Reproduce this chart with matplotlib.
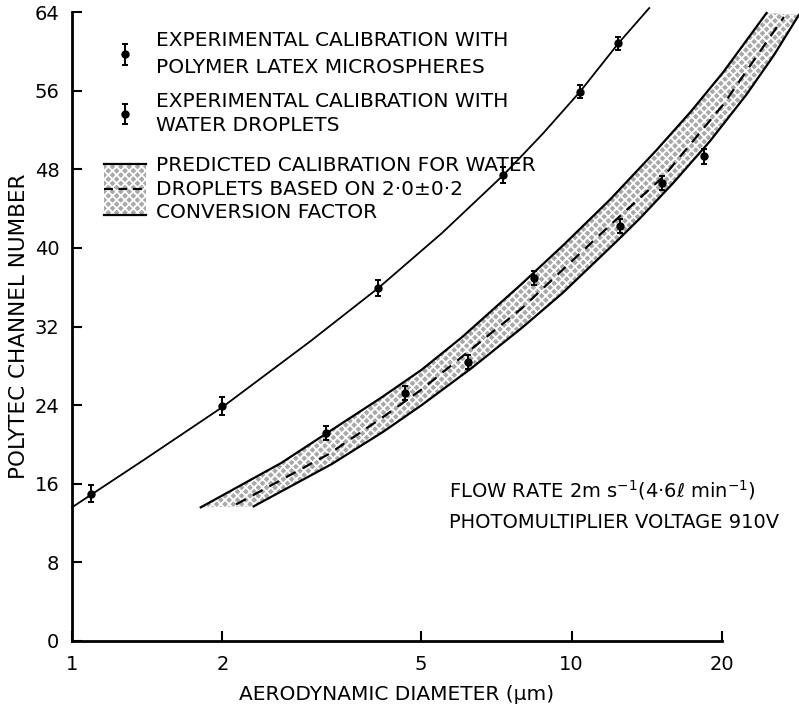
import matplotlib
matplotlib.use('Agg')
import matplotlib.pyplot as plt
import matplotlib.patches as mpatches
from matplotlib.lines import Line2D
from matplotlib.ticker import NullLocator

# experimental calibration, polymer latex microspheres
latex_d = [1.09, 2.0, 4.1, 7.3, 10.4, 12.4]
latex_n = [15.0, 23.9, 35.9, 47.4, 55.9, 60.8]
latex_err = [0.9, 0.9, 0.8, 0.8, 0.7, 0.7]

# experimental calibration, water droplets
water_d = [3.23, 4.63, 6.2, 8.4, 12.5, 15.2, 18.4]
water_n = [21.2, 25.2, 28.4, 36.9, 42.2, 46.6, 49.3]
water_err = [0.7, 0.7, 0.7, 0.7, 0.7, 0.7, 0.8]

# curve through latex points
fit_d = [1.0, 1.39, 2.0, 3.0, 4.1, 5.5, 7.3, 8.75, 10.4, 12.4, 14.3]
fit_n = [13.6, 18.4, 23.8, 30.5, 35.9, 41.5, 47.4, 51.6, 55.9, 60.8, 64.4]

# predicted band for water droplets (upper edge, lower edge, centre)
up_d = [1.81, 2.62, 4.17, 5.01, 6.03, 7.97, 9.59, 11.93, 14.76, 17.28, 20.13, 24.56]
up_n = [13.6, 18.1, 24.8, 27.6, 30.9, 36.4, 40.2, 44.9, 49.9, 53.8, 57.9, 63.9]
lo_d = [2.31, 3.31, 4.2, 5.01, 6.32, 7.97, 9.59, 12.27, 13.7, 15.97, 18.95, 22.39, 25.4, 28.5]
lo_n = [13.7, 18.0, 21.3, 24.0, 27.8, 31.9, 35.4, 40.6, 43.0, 46.6, 50.9, 55.6, 59.6, 63.7]
mid_d = [2.13, 3.26, 4.17, 5.01, 7.97, 11.93, 15.3, 20.13, 26.6]
mid_n = [13.9, 19.0, 22.7, 25.6, 33.9, 42.3, 47.3, 54.6, 63.5]

x_ticks = [1, 2, 5, 10, 20]
y_ticks = [0, 8, 16, 24, 32, 40, 48, 56, 64]

BAND_FACE = '#a9a9a9'
plt.rcParams['hatch.linewidth'] = 1.3


class BandHandler:
    def legend_artist(self, legend, orig_handle, fontsize, handlebox):
        x0 = -handlebox.xdescent
        w = handlebox.width
        yc = -handlebox.ydescent + handlebox.height / 2
        half = 1.25 * fontsize
        rect = mpatches.Rectangle((x0, yc - half), w, 2 * half,
                                  facecolor=BAND_FACE, edgecolor='white',
                                  hatch='xxxx', lw=0)
        handlebox.add_artist(rect)
        for yy, ls in [(yc + half, '-'), (yc, (0, (4, 2.5))), (yc - half, '-')]:
            handlebox.add_artist(Line2D([x0, x0 + w], [yy, yy], color='k',
                                        lw=1.6, ls=ls))
        return rect


def main():
    fig = plt.figure(figsize=(7.99, 7.11), dpi=100)
    ax = fig.add_axes([72 / 799, 70 / 711, 650 / 799, 629 / 711])

    ax.fill(up_d + lo_d[::-1], up_n + lo_n[::-1], facecolor=BAND_FACE,
            edgecolor='white', hatch='xxxx', linewidth=0, clip_on=False)
    ax.plot(up_d, up_n, color='k', lw=1.6, clip_on=False)
    ax.plot(lo_d, lo_n, color='k', lw=1.6, clip_on=False)
    ax.plot(mid_d, mid_n, color='k', lw=1.6, dashes=(5, 3.5), clip_on=False)
    ax.plot(fit_d, fit_n, color='k', lw=1.3, clip_on=False)

    eb1 = ax.errorbar(latex_d, latex_n, yerr=latex_err, fmt='o', color='k',
                      ms=5, capsize=2.5, elinewidth=1.4, capthick=1.4)
    eb2 = ax.errorbar(water_d, water_n, yerr=water_err, fmt='o', color='k',
                      ms=5, capsize=2.5, elinewidth=1.4, capthick=1.4)
    band = mpatches.Patch()

    leg_kw = dict(loc='upper left', frameon=False, fontsize=14.5, borderpad=0,
                  borderaxespad=0, handlelength=2.1, handletextpad=0.5)
    leg1 = ax.legend([eb1, eb2],
                     ['EXPERIMENTAL CALIBRATION WITH\nPOLYMER LATEX MICROSPHERES',
                      'EXPERIMENTAL CALIBRATION WITH\nWATER DROPLETS'],
                     bbox_to_anchor=(0.049, 0.97), labelspacing=0.75, **leg_kw)
    for t, sp in zip(leg1.get_texts(), [1.55, 1.35]):
        t.set_linespacing(sp)
    ax.add_artist(leg1)
    leg2 = ax.legend([band],
                     ['PREDICTED CALIBRATION FOR WATER\nDROPLETS BASED ON 2·0±0·2\nCONVERSION FACTOR'],
                     handler_map={band: BandHandler()},
                     bbox_to_anchor=(0.049, 0.771), **leg_kw)
    leg2.get_texts()[0].set_linespacing(1.3)

    ax.text(5.68, 15.4, 'FLOW RATE 2m s$^{-1}$(4·6$\\ell$ min$^{-1}$)',
            fontsize=14, va='center')
    ax.text(5.68, 12.1, 'PHOTOMULTIPLIER VOLTAGE 910V', fontsize=14,
            va='center')

    ax.set_xscale('log')
    ax.set_xlim(1, 20)
    ax.set_ylim(0, 64)
    ax.set_xticks(x_ticks)
    ax.set_xticklabels([str(t) for t in x_ticks])
    ax.xaxis.set_minor_locator(NullLocator())
    ax.set_yticks(y_ticks)
    ax.tick_params(direction='in', length=7, width=1.5, labelsize=14)
    ax.tick_params(axis='x', pad=10)
    ax.tick_params(axis='y', pad=9)
    for s in ['top', 'right']:
        ax.spines[s].set_visible(False)
    for s in ['left', 'bottom']:
        ax.spines[s].set_linewidth(2)

    ax.set_xlabel('AERODYNAMIC DIAMETER (μm)', fontsize=14.5, labelpad=8)
    ax.set_ylabel('POLYTEC CHANNEL NUMBER', fontsize=15.5, labelpad=4)

    fig.savefig('out.png', dpi=100)


if __name__ == '__main__':
    main()
